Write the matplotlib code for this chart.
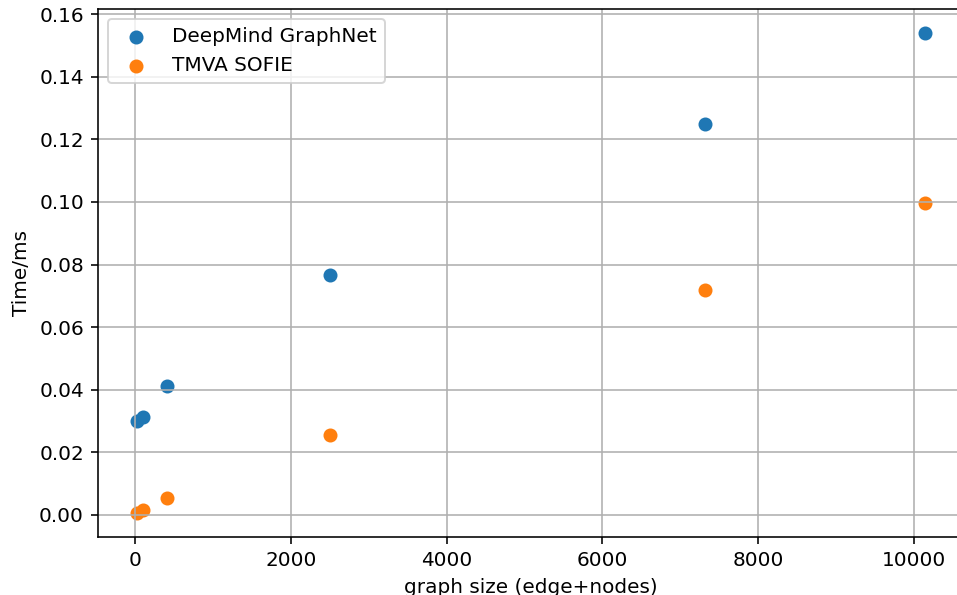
import matplotlib.pyplot as plt

graph_size = [30, 105, 405, 2505, 7325, 10140]
deepmind_time = [0.0300, 0.0314, 0.0411, 0.0765, 0.1250, 0.1540]
sofie_time = [0.0006, 0.0015, 0.0053, 0.0255, 0.0719, 0.0998]

fig = plt.figure(figsize=(957 / 144, 595 / 144), dpi=144)
ax = fig.add_axes([0.1024, 0.0975, 0.905, 0.8875])

ax.scatter(graph_size, deepmind_time, label="DeepMind GraphNet")
ax.scatter(graph_size, sofie_time, label="TMVA SOFIE")

ax.set_xlabel("graph size (edge+nodes)")
ax.set_ylabel("Time/ms")
ax.grid(True)
ax.legend(loc="upper left")

fig.savefig("out.png", dpi=144)
